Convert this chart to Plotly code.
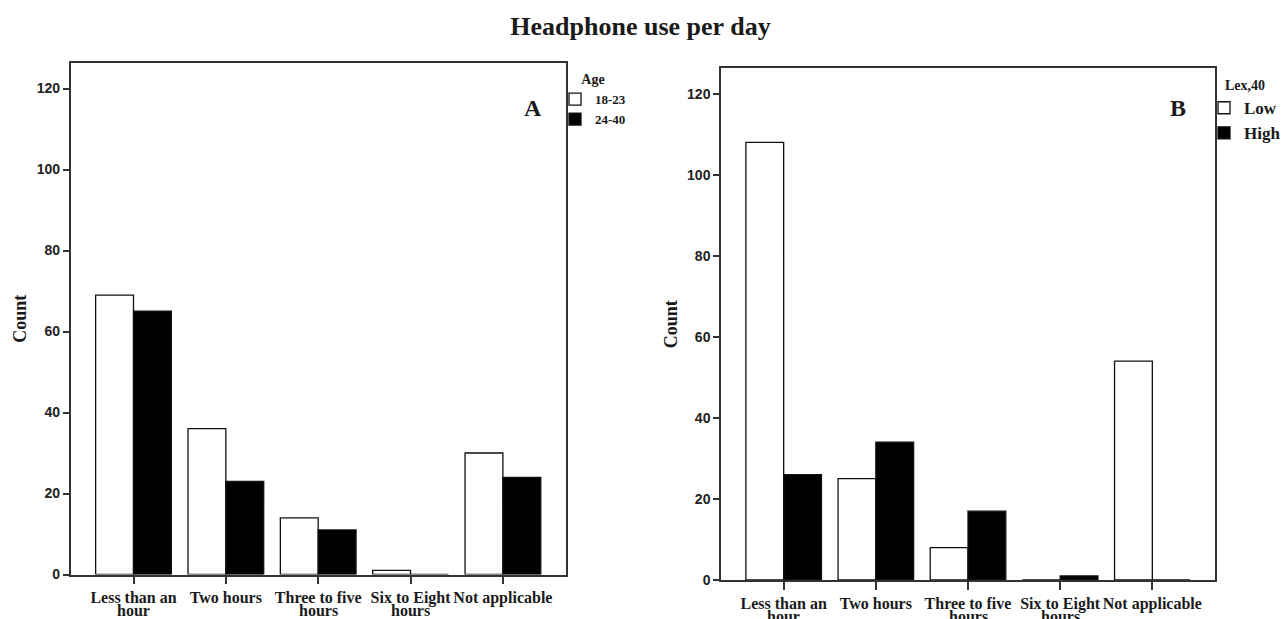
import plotly.graph_objects as go

categories = ["Less than an hour", "Two hours", "Three to five hours", "Six to Eight hours", "Not applicable"]
label_line1 = ["Less than an", "Two hours", "Three to five", "Six to Eight", "Not applicable"]
label_line2 = ["hour", "", "hours", "hours", ""]
age_18_23 = [69, 36, 14, 1, 30]
age_24_40 = [65, 23, 11, 0, 24]
lex_low = [108, 25, 8, 0, 54]
lex_high = [26, 34, 17, 1, 0]

W, H = 1281, 619
SERIF = "Liberation Serif"
SANS = "Liberation Sans"
AX = "#333333"
TXT = "#1a1a1a"
XR = [-0.68, 4.68]
pos = list(range(len(categories)))

fig = go.Figure()
line = dict(color="#111111", width=1.3)
fig.add_trace(go.Bar(x=pos, y=age_18_23, name="18-23", marker=dict(color="white", line=line),
                     customdata=categories, xaxis="x", yaxis="y", legend="legend"))
fig.add_trace(go.Bar(x=pos, y=age_24_40, name="24-40", marker=dict(color="black", line=line),
                     customdata=categories, xaxis="x", yaxis="y", legend="legend"))
fig.add_trace(go.Bar(x=pos, y=lex_low, name="Low", marker=dict(color="white", line=line),
                     customdata=categories, xaxis="x2", yaxis="y2", legend="legend2"))
fig.add_trace(go.Bar(x=pos, y=lex_high, name="High", marker=dict(color="black", line=line),
                     customdata=categories, xaxis="x2", yaxis="y2", legend="legend2"))

LBL = dict(family=SERIF, size=16, color=TXT, weight="bold")

def xax(domain, anchor):
    return dict(domain=domain, anchor=anchor, range=XR, showline=True, mirror=True,
                automargin=False, tickangle=0, tickmode="array", tickvals=pos, ticktext=label_line1,
                linecolor=AX, linewidth=1.5, ticks="outside", ticklen=8, tickcolor=AX, tickwidth=1.5,
                showgrid=False, zeroline=False, tickfont=LBL)

def yax(domain, anchor):
    return dict(domain=domain, anchor=anchor, range=[0, 126.3], showline=True, mirror=True,
                automargin=False,
                linecolor=AX, linewidth=1.5, ticks="outside", ticklen=6, tickcolor=AX, tickwidth=1.5,
                tickvals=[0, 20, 40, 60, 80, 100, 120], showgrid=False, zeroline=False,
                tickfont=dict(family=SANS, size=14, color="#222222", weight="bold"),
                title=dict(text="Count", standoff=5,
                           font=dict(family=SERIF, size=18, color=TXT, weight="bold")))

annotations = [
    dict(text="A", x=533 / W, y=1 - 93 / H, xref="paper", yref="paper", showarrow=False,
         font=dict(family=SERIF, size=24, color=TXT, weight="bold")),
    dict(text="B", x=1188 / W, y=1 - 93 / H, xref="paper", yref="paper", showarrow=False,
         font=dict(family=SERIF, size=24, color=TXT, weight="bold")),
]
for xr, yr in (("x", "y domain"), ("x2", "y2 domain")):
    for i, t in zip(pos, label_line2):
        if t:
            annotations.append(dict(text=t, x=i, y=0, xref=xr, yref=yr, xanchor="center",
                                    yanchor="middle", yshift=-36, showarrow=False, font=LBL))

fig.update_layout(
    width=W, height=H, margin=dict(l=0, r=0, t=0, b=0, autoexpand=False),
    paper_bgcolor="white", plot_bgcolor="white",
    barmode="group", bargap=0.18, bargroupgap=0,
    title=dict(text="Headphone use per day", x=0.5, xanchor="center", xref="paper",
               y=1 - 26 / H, yanchor="middle", yref="container",
               font=dict(family=SERIF, size=26, color=TXT, weight="bold")),
    xaxis=xax([70.7 / W, 565.7 / W], "y"),
    yaxis=yax([1 - 574.5 / H, 1 - 63 / H], "x"),
    xaxis2=xax([721 / W, 1215 / W], "y2"),
    yaxis2=yax([1 - 580 / H, 1 - 68.3 / H], "x2"),
    legend=dict(x=555 / W, y=1 - 66 / H, xanchor="left", yanchor="top",
                bgcolor="rgba(0,0,0,0)", tracegroupgap=0,
                title=dict(text="Age", side="top center",
                           font=dict(family=SERIF, size=14, color=TXT, weight="bold")),
                font=dict(family=SERIF, size=13, color=TXT, weight="bold")),
    legend2=dict(x=1204 / W, y=1 - 72 / H, xanchor="left", yanchor="top",
                 bgcolor="rgba(0,0,0,0)", tracegroupgap=0,
                 title=dict(text="Lex,40", side="top center",
                            font=dict(family=SERIF, size=14, color=TXT, weight="bold")),
                 font=dict(family=SERIF, size=17, color=TXT, weight="bold")),
    annotations=annotations,
)

fig.write_html("out.html")
